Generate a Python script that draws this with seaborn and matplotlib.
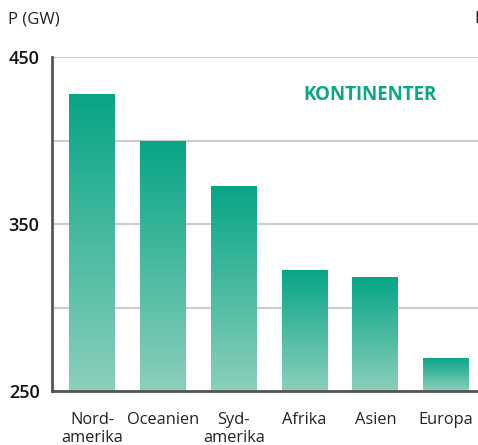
import numpy as np
import pandas as pd
import matplotlib
matplotlib.use('Agg')
import matplotlib.pyplot as plt
import seaborn as sns
from matplotlib.colors import LinearSegmentedColormap

# --- data ---
continents = ['Nord-\namerika', 'Oceanien', 'Syd-\namerika', 'Afrika', 'Asien', 'Europa']
power_gw = [428, 400, 373, 322.5, 318, 270]
y_ticks = [250, 300, 350, 400, 450]
y_tick_labels = ['250', '', '350', '', '450']

df = pd.DataFrame({'continent': continents, 'power': power_gw})

sns.set_style('white')
plt.rcParams['font.family'] = ['Open Sans', 'DejaVu Sans']

fig = plt.figure(figsize=(4.78, 4.45), dpi=100)
ax = fig.add_axes([52 / 478, 1 - 391 / 445, 1 - 52 / 478, (391 - 57) / 445])

sns.barplot(data=df, x='continent', y='power', color='#0aa888', width=0.65, ax=ax)

# gradient fill for each bar (dark at top, light at bottom)
cmap = LinearSegmentedColormap.from_list('grad', ['#8bcfbc', '#07a585'])
grad = np.linspace(0, 1, 256).reshape(-1, 1)
for bar in ax.patches:
    x0, w = bar.get_x(), bar.get_width()
    top = bar.get_height()
    bar.set_facecolor('none')
    bar.set_edgecolor('none')
    img = ax.imshow(grad, cmap=cmap, aspect='auto', origin='lower',
                    extent=[x0, x0 + w, 250, top], zorder=2)
    img.set_clip_path(bar)

ax.set_ylim(250, 450)
ax.set_xlim(-0.57, 5.45)
ax.set_yticks(y_ticks)
ax.set_yticklabels(y_tick_labels, fontsize=13, fontweight='semibold')
ax.tick_params(axis='both', length=0)
ax.tick_params(axis='y', pad=9, colors='#111111')
ax.tick_params(axis='x', pad=15, labelsize=11.8, colors='#222222')
ax.yaxis.grid(True, color='#cccccc', linewidth=1.5)
ax.set_axisbelow(True)
ax.set_xlabel('')
ax.set_ylabel('')

for s in ['top', 'right']:
    ax.spines[s].set_visible(False)
for s in ['left', 'bottom']:
    ax.spines[s].set_color('#555555')
    ax.spines[s].set_linewidth(2)
    ax.spines[s].set_zorder(3)

fig.text(8 / 478, 1 - 19 / 445, 'P (GW)', fontsize=12, va='center', ha='left', color='#222222')
fig.text(474 / 478, 1 - 19 / 445, 'P', fontsize=12, va='center', ha='left', color='#222222')
fig.text(437 / 478, 1 - 95 / 445, 'KONTINENTER', ha='right', va='center',
         fontsize=13.5, fontweight='bold', color='#0aa888')

fig.savefig('out.png', dpi=100)
